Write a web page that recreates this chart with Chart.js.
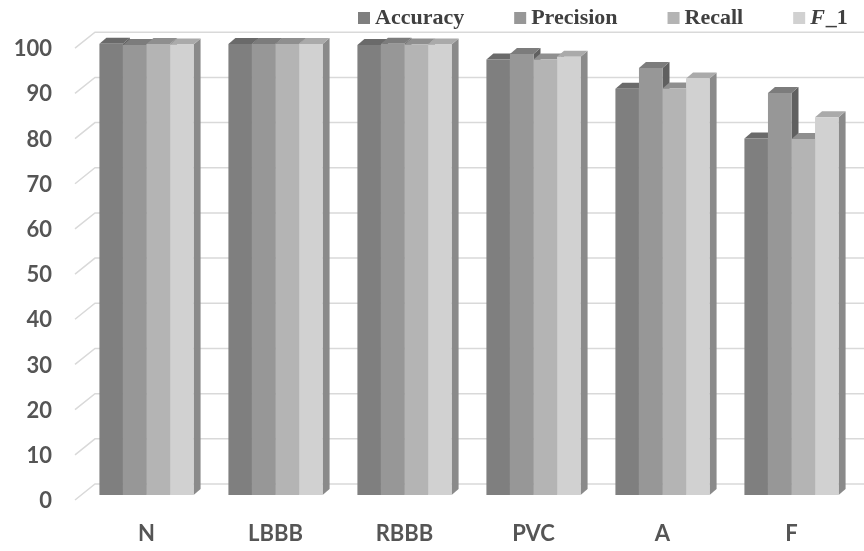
<!DOCTYPE html>
<html>
<head>
<meta charset="utf-8">
<title>Classification metrics</title>
<script src="https://cdn.jsdelivr.net/npm/chart.js@4.4.1/dist/chart.umd.min.js"></script>
<style>
  html, body { margin: 0; padding: 0; background: #ffffff; }
  #wrap { width: 864px; height: 551px; position: relative; }
</style>
</head>
<body>
<div id="wrap"><canvas id="metricsChart" width="864" height="551"></canvas></div>
<script>
// classes and scores (%)
const categories = ["N", "LBBB", "RBBB", "PVC", "A", "F"];
const seriesNames = ["Accuracy", "Precision", "Recall", "F_1"];
const accuracy = [99.9, 99.8, 99.6, 96.4, 89.9, 78.9];
const precision = [99.6, 99.8, 99.9, 97.6, 94.5, 89.0];
const recall = [99.8, 99.8, 99.7, 96.4, 90.0, 78.8];
const f1 = [99.7, 99.8, 99.7, 97.0, 92.2, 83.6];
const yTicks = [0, 10, 20, 30, 40, 50, 60, 70, 80, 90, 100];

// front / top / side shades for each series
const faceFront = ["#7f7f7f", "#979797", "#b4b4b4", "#d1d1d1"];
const faceTop = ["#6a6a6a", "#7c7c7c", "#8f8f8f", "#aaaaaa"];
const faceSide = ["#5c5c5c", "#606060", "#7a7a7a", "#8a8a8a"];

const DX = 7, DY = 6;            // bar depth
const WALL_DX = 13, WALL_DY = 11; // back wall offset for gridlines

// back wall gridlines + left wall diagonals, then the bar tops and sides
const depthPlugin = {
  id: "depth3d",
  beforeDatasetsDraw(chart) {
    const ctx = chart.ctx;
    const y = chart.scales.y;
    const area = chart.chartArea;
    ctx.save();
    ctx.strokeStyle = "#d9d9d9";
    ctx.lineWidth = 1.5;
    yTicks.forEach(function (v) {
      const py = y.getPixelForValue(v);
      ctx.beginPath();
      ctx.moveTo(area.left - 7, py + 5);
      ctx.lineTo(area.left + WALL_DX, py - WALL_DY);
      ctx.lineTo(chart.width, py - WALL_DY);
      ctx.stroke();
    });

    // tops and sides, category by category, left to right
    const metas = chart.data.datasets.map(function (d, i) { return chart.getDatasetMeta(i); });
    categories.forEach(function (c, ci) {
      metas.forEach(function (meta, si) {
        const bar = meta.data[ci];
        const l = bar.x - bar.width / 2;
        const r = bar.x + bar.width / 2;
        const t = bar.y;
        const b = bar.base;
        ctx.fillStyle = faceSide[si];
        ctx.beginPath();
        ctx.moveTo(r, t);
        ctx.lineTo(r + DX, t - DY);
        ctx.lineTo(r + DX, b - DY);
        ctx.lineTo(r, b);
        ctx.closePath();
        ctx.fill();
        ctx.fillStyle = faceTop[si];
        ctx.beginPath();
        ctx.moveTo(l, t);
        ctx.lineTo(l + DX, t - DY);
        ctx.lineTo(r + DX, t - DY);
        ctx.lineTo(r, t);
        ctx.closePath();
        ctx.fill();
      });
    });
    ctx.restore();
  },
  afterDraw(chart) {
    // legend along the top, F in italics
    const ctx = chart.ctx;
    ctx.save();
    ctx.textBaseline = "middle";
    let x = 358;
    const ly = 18;
    seriesNames.forEach(function (name, i) {
      ctx.fillStyle = faceFront[i];
      ctx.fillRect(x, ly - 6, 12, 12);
      x += 17;
      ctx.fillStyle = "#404040";
      if (name.indexOf("F_") === 0) {
        ctx.font = "italic bold 22px 'Liberation Serif'";
        ctx.fillText("F", x, ly);
        x += ctx.measureText("F").width + 1;
        ctx.font = "bold 22px 'Liberation Serif'";
        ctx.fillText(name.slice(1), x, ly);
        x += ctx.measureText(name.slice(1)).width;
      } else {
        ctx.font = "bold 22px 'Liberation Serif'";
        ctx.fillText(name, x, ly);
        x += ctx.measureText(name).width;
      }
      x += 50;
    });
    ctx.restore();
  }
};

const ctx = document.getElementById("metricsChart").getContext("2d");
const metricsChart = new Chart(ctx, {
  type: "bar",
  data: {
    labels: categories,
    datasets: [accuracy, precision, recall, f1].map(function (vals, i) {
      return {
        label: seriesNames[i],
        data: vals,
        backgroundColor: faceFront[i],
        borderWidth: 0,
        barPercentage: 1.0,
        categoryPercentage: 0.73
      };
    })
  },
  options: {
    responsive: false,
    animation: false,
    layout: { padding: { top: 41, right: 8, left: 0, bottom: 0 } },
    scales: {
      x: {
        grid: { display: false, drawTicks: false },
        border: { display: false },
        ticks: {
          color: "#555555",
          padding: 26,
          font: { family: "Lato", weight: "bold", size: 22 }
        },
        afterFit: function (s) { s.height = 56; }
      },
      y: {
        min: 0,
        max: 100,
        afterBuildTicks: function (s) { s.ticks = yTicks.map(function (v) { return { value: v }; }); },
        grid: { display: false, drawTicks: false },
        border: { display: false },
        ticks: {
          color: "#555555",
          padding: 30,
          labelOffset: 6,
          font: { family: "Lato", weight: "bold", size: 22 }
        },
        afterFit: function (s) { s.width = 82; }
      }
    },
    plugins: {
      legend: { display: false },
      tooltip: { enabled: false }
    }
  },
  plugins: [depthPlugin]
});
</script>
</body>
</html>
